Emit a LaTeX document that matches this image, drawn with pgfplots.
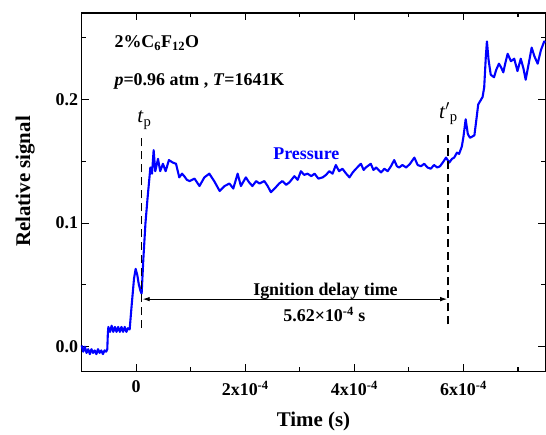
\documentclass[border=0pt]{standalone}
\usepackage{fontspec}
\setmainfont{Liberation Serif}
\usepackage{pgfplots}
\pgfplotsset{compat=1.18}
\usetikzlibrary{arrows.meta}

\newcommand\fs[1]{\fontsize{#1}{#1}\selectfont}

\begin{document}
\begin{tikzpicture}

\begin{axis}[
  width=464bp, height=358.7bp, scale only axis,
  xmin=-1, xmax=7.5, ymin=-0.02, ymax=0.27,
  xtick={0,2,4,6},
  xticklabels={0,2x10\textsuperscript{-4},4x10\textsuperscript{-4},6x10\textsuperscript{-4}},
  minor xtick={1,3,5,7},
  ytick={0,0.1,0.2}, yticklabels={0.0,0.1,0.2},
  minor ytick={0.05,0.15,0.25},
  tick align=inside,
  major tick length=7bp, minor tick length=4bp,
  every tick/.style={black, line width=1.1bp},
  axis line style={line width=1.3bp},
  tick label style={font=\bfseries\fs{18}},
  xticklabel style={yshift=-6bp},
  xlabel={Time (s)}, ylabel={Relative signal},
  label style={font=\bfseries\fs{21}},
  xlabel style={at={(axis description cs:0.5,-0.14)}, anchor=center},
  ylabel style={at={(axis description cs:-0.122,0.53)}, anchor=center},
  clip=false,
]

\addplot[blue, line width=2.1bp, line join=round] coordinates {
(-1.00,0.001) (-0.97,-0.004) (-0.94,0.000) (-0.91,-0.005) (-0.88,-0.002) (-0.85,-0.006)
(-0.82,-0.002) (-0.79,-0.005) (-0.76,-0.003) (-0.73,-0.006) (-0.70,-0.002) (-0.67,-0.005)
(-0.64,-0.003) (-0.61,-0.006) (-0.58,-0.003) (-0.55,-0.004) (-0.53,-0.002) (-0.52,0.010)
(-0.51,0.016) (-0.48,0.012) (-0.45,0.017) (-0.42,0.012) (-0.39,0.016) (-0.36,0.012)
(-0.33,0.016) (-0.30,0.012) (-0.27,0.016) (-0.24,0.012) (-0.21,0.016) (-0.18,0.012)
(-0.15,0.015) (-0.12,0.014) (-0.08,0.035) (-0.04,0.055) (-0.01,0.063) (0.02,0.058)
(0.05,0.050) (0.08,0.045) (0.10,0.043) (0.13,0.070) (0.17,0.100) (0.21,0.121)
(0.26,0.145) (0.29,0.140) (0.32,0.159) (0.35,0.142) (0.40,0.152) (0.44,0.142)
(0.49,0.148) (0.54,0.142) (0.60,0.151) (0.67,0.149) (0.73,0.148) (0.79,0.137)
(0.84,0.140) (0.88,0.138) (0.93,0.135) (0.98,0.134) (1.07,0.136) (1.16,0.130)
(1.25,0.137) (1.34,0.140) (1.43,0.134) (1.53,0.126) (1.62,0.130) (1.71,0.132)
(1.78,0.128) (1.86,0.140) (1.92,0.130) (2.01,0.137) (2.07,0.133) (2.13,0.130)
(2.20,0.134) (2.26,0.132) (2.35,0.134) (2.41,0.130) (2.47,0.125) (2.56,0.129)
(2.62,0.132) (2.68,0.134) (2.75,0.131) (2.81,0.133) (2.90,0.138) (2.96,0.135)
(3.02,0.142) (3.08,0.139) (3.14,0.140) (3.21,0.138) (3.27,0.140) (3.34,0.136)
(3.42,0.137) (3.48,0.139) (3.54,0.142) (3.60,0.140) (3.66,0.147) (3.72,0.142)
(3.78,0.144) (3.85,0.140) (3.91,0.137) (3.97,0.141) (4.03,0.144) (4.12,0.148)
(4.17,0.143) (4.21,0.145) (4.30,0.148) (4.35,0.143) (4.40,0.145) (4.49,0.141)
(4.55,0.144) (4.61,0.142) (4.67,0.146) (4.73,0.151) (4.78,0.146) (4.82,0.145)
(4.88,0.147) (4.95,0.145) (5.02,0.148) (5.10,0.153) (5.16,0.147) (5.22,0.146)
(5.28,0.148) (5.34,0.145) (5.40,0.144) (5.46,0.147) (5.52,0.145) (5.57,0.146)
(5.62,0.149) (5.68,0.153) (5.74,0.149) (5.79,0.152) (5.83,0.153) (5.88,0.157)
(5.92,0.156) (5.97,0.162) (6.00,0.170) (6.04,0.184) (6.08,0.172) (6.12,0.169)
(6.16,0.170) (6.20,0.171) (6.24,0.185) (6.27,0.196) (6.31,0.199) (6.35,0.202)
(6.38,0.210) (6.41,0.235) (6.43,0.247) (6.46,0.232) (6.50,0.220) (6.56,0.218)
(6.60,0.224) (6.65,0.229) (6.69,0.226) (6.73,0.222) (6.77,0.230) (6.81,0.237)
(6.87,0.231) (6.93,0.233) (6.99,0.223) (7.05,0.233) (7.10,0.225) (7.14,0.216)
(7.20,0.230) (7.25,0.242) (7.30,0.235) (7.36,0.229) (7.42,0.240) (7.48,0.247)
(7.50,0.246)
};

% t_p and t'_p markers
\draw[dash pattern=on 8bp off 5bp, line width=1.5bp] (axis cs:0.10,0.015) -- (axis cs:0.10,0.171);
\draw[dash pattern=on 8bp off 5bp, line width=1.5bp] (axis cs:5.72,0.018) -- (axis cs:5.72,0.173);
\node[anchor=base west, inner sep=0, font=\fs{21}] at (axis cs:0.02,0.181) {\textit{t}\textsubscript{p}};
\node[anchor=base west, inner sep=0, font=\fs{21}] at (axis cs:5.55,0.185) {\textit{t}$'$\textsubscript{p}};

% ignition delay arrow
\draw[{Latex[length=7bp,width=4.5bp]}-{Latex[length=7bp,width=4.5bp]}, line width=0.8bp]
  (axis cs:0.12,0.0385) -- (axis cs:5.70,0.0385);
\node[anchor=base, font=\bfseries\fs{18}] at (axis cs:3.47,0.0417) {Ignition delay time};
\node[anchor=base, font=\bfseries\fs{18}] at (axis cs:3.45,0.020) {5.62×10\textsuperscript{-4} s};

\node[text=blue, font=\bfseries\fs{18}] at (axis cs:3.12,0.156) {Pressure};
\node[anchor=base west, inner sep=0, font=\bfseries\fs{18}] at (axis cs:-0.40,0.242)
  {2\%C\textsubscript{6}F\textsubscript{12}O};
\node[anchor=base west, inner sep=0, font=\bfseries\fs{18}] at (axis cs:-0.40,0.211)
  {\textit{p}=0.96 atm , \textit{T}=1641K};

\end{axis}

\pgfresetboundingbox
\path ([shift={(-81.7bp,-63.3bp)}]current axis.south west)
  rectangle ([shift={(0.7bp,13bp)}]current axis.north east);
\end{tikzpicture}
\end{document}
